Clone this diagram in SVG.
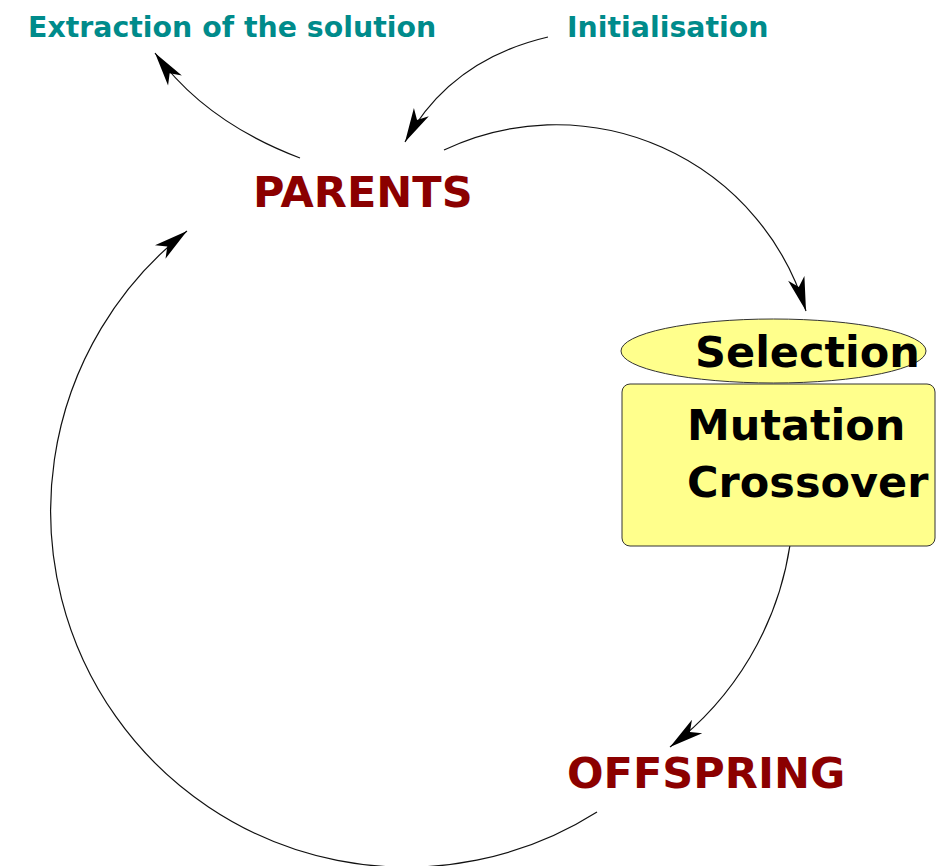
<svg xmlns="http://www.w3.org/2000/svg" width="944" height="866" viewBox="0 0 944 866">
<style>
.conn{fill:none;stroke:#111;stroke-width:1.2}
.big{font-family:"DejaVu Sans",sans-serif;font-weight:bold;font-size:43px}
.red{fill:#8b0000}
.blk{fill:#000}
.teal{font-family:"DejaVu Sans",sans-serif;font-weight:bold;font-size:28.4px;fill:#008b8b}
.box{fill:#ffff8c;stroke:#333;stroke-width:1}
</style>
<defs>
<marker id="ah" markerUnits="userSpaceOnUse" markerWidth="40" markerHeight="24" viewBox="-36 -12 40 24" refX="0" refY="0" orient="auto" overflow="visible">
<path d="M0,0 L-34,-8.5 L-25,0 L-34,8.5 Z" fill="#000"/>
</marker>
</defs>
<rect width="944" height="866" fill="#fff"/>
<g id="connectors">
<path class="conn" d="M300,158 Q205,122 155,53" marker-end="url(#ah)"/>
<path class="conn" d="M548,37 Q450,60 405,142" marker-end="url(#ah)"/>
<path class="conn" d="M444,150 A261,261 0 0 1 806,311" marker-end="url(#ah)"/>
<path class="conn" d="M790,545 A312,312 0 0 1 670,747" marker-end="url(#ah)"/>
<path class="conn" d="M597,812 A356,356 0 0 1 187,231" marker-end="url(#ah)"/>
</g>
<g id="extraction"><text class="teal" x="28" y="37">Extraction of the solution</text></g>
<g id="initialisation"><text class="teal" x="567" y="37">Initialisation</text></g>
<g id="parents"><text class="big red" x="253" y="207">PARENTS</text></g>
<g id="selection">
<ellipse class="box" cx="773.5" cy="351" rx="152.5" ry="32"/>
<text class="big blk" x="695" y="367">Selection</text>
</g>
<g id="operators">
<rect class="box" x="622" y="384" width="313" height="162" rx="8"/>
<text class="big blk" x="687" y="440">Mutation</text>
<text class="big blk" x="687" y="497">Crossover</text>
</g>
<g id="offspring"><text class="big red" x="567" y="788">OFFSPRING</text></g>
</svg>
